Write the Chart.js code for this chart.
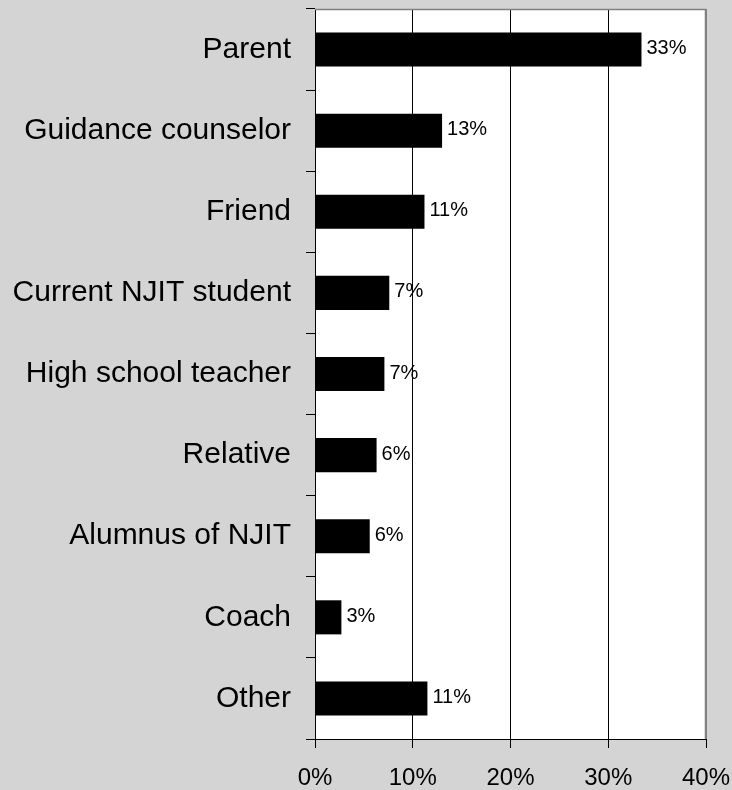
<!DOCTYPE html>
<html>
<head>
<meta charset="utf-8">
<script src="https://cdn.jsdelivr.net/npm/chart.js@4"></script>
<style>
  html, body { margin: 0; padding: 0; background: #d4d4d4; }
  #wrap { width: 732px; height: 790px; }
</style>
</head>
<body>
<div id="wrap"><canvas id="c" width="732" height="790"></canvas></div>
<script>
const categories = ["Parent", "Guidance counselor", "Friend", "Current NJIT student", "High school teacher", "Relative", "Alumnus of NJIT", "Coach", "Other"];
const values = [33.4, 13.0, 11.2, 7.6, 7.1, 6.3, 5.6, 2.7, 11.5];
const valueLabels = ["33%", "13%", "11%", "7%", "7%", "6%", "6%", "3%", "11%"];
const xTicks = [0, 10, 20, 30, 40];

const FONT = "'Liberation Sans', Arial, sans-serif";

const plotBg = {
  id: 'plotBg',
  beforeDraw(chart) {
    const { ctx, chartArea: a } = chart;
    ctx.save();
    ctx.fillStyle = '#ffffff';
    ctx.fillRect(a.left, a.top, a.right - a.left, a.bottom - a.top);
    ctx.restore();
  },
  afterDatasetsDraw(chart) {
    const { ctx, chartArea: a } = chart;
    ctx.save();
    ctx.strokeStyle = '#808080';
    ctx.lineWidth = 1.5;
    ctx.beginPath();
    ctx.moveTo(a.left, a.top + 0.5);
    ctx.lineTo(a.right - 0.5, a.top + 0.5);
    ctx.lineTo(a.right - 0.5, a.bottom);
    ctx.stroke();
    ctx.restore();
  }
};

const barLabels = {
  id: 'barLabels',
  afterDatasetsDraw(chart) {
    const { ctx } = chart;
    const meta = chart.getDatasetMeta(0);
    ctx.save();
    ctx.fillStyle = '#000';
    ctx.font = '20px ' + FONT;
    ctx.textAlign = 'left';
    ctx.textBaseline = 'middle';
    meta.data.forEach((bar, i) => {
      ctx.fillText(valueLabels[i], bar.x + 5, bar.y - 1);
    });
    ctx.restore();
  }
};

new Chart(document.getElementById('c'), {
  type: 'bar',
  data: {
    labels: categories,
    datasets: [{
      data: values,
      backgroundColor: '#000000',
      borderWidth: 0,
      barPercentage: 0.42,
      categoryPercentage: 1.0
    }]
  },
  options: {
    indexAxis: 'y',
    responsive: false,
    animation: false,
    devicePixelRatio: 1,
    layout: { autoPadding: false, padding: { top: 9, right: 26, left: 0, bottom: 0 } },
    plugins: { legend: { display: false }, tooltip: { enabled: false } },
    scales: {
      x: {
        type: 'linear',
        min: 0,
        max: 40,
        afterBuildTicks(scale) { scale.ticks = xTicks.map(v => ({ value: v })); },
        afterFit(scale) {
          scale.height = 51;
          scale.paddingLeft = 0; scale.paddingRight = 0;
          scale.paddingTop = 0; scale.paddingBottom = 0;
        },
        grid: {
          color: ctx => (ctx.tick && ctx.tick.value === 40) ? '#808080' : '#000000',
          lineWidth: 1,
          drawTicks: true,
          tickLength: 9,
          tickColor: '#000000'
        },
        border: { display: true, color: '#000000', width: 1 },
        ticks: {
          color: '#000000',
          font: { family: FONT, size: 24 },
          padding: 16,
          maxRotation: 0,
          callback: v => v + '%'
        }
      },
      y: {
        afterFit(scale) {
          scale.width = 315;
          scale.paddingLeft = 0; scale.paddingRight = 0;
          scale.paddingTop = 0; scale.paddingBottom = 0;
        },
        grid: {
          offset: true,
          drawOnChartArea: false,
          drawTicks: true,
          tickLength: 9,
          color: '#000000'
        },
        border: { display: true, color: '#000000', width: 1 },
        ticks: {
          color: '#000000',
          font: { family: FONT, size: 30 },
          padding: 15
        }
      }
    }
  },
  plugins: [plotBg, barLabels]
});
</script>
</body>
</html>
